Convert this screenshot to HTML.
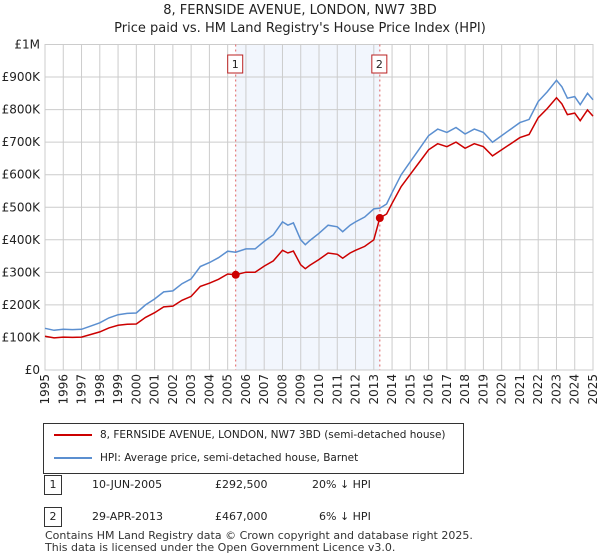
<!DOCTYPE html>
<html><head><meta charset="utf-8">
<style>
body{margin:0;background:#fff;font-family:"DejaVu Sans","Liberation Sans",sans-serif;}
#wrap{position:relative;width:600px;height:560px;overflow:hidden;}
.t{position:absolute;font-size:12px;color:#222;}
</style></head><body>
<div id="wrap">
<div class="t" style="left:0;width:600px;text-align:center;top:2px;font-size:13px;line-height:18px;">8, FERNSIDE AVENUE, LONDON, NW7 3BD<br>Price paid vs. HM Land Registry's House Price Index (HPI)</div>
<svg id="chart" width="600" height="420" style="position:absolute;left:0;top:0;font-family:'DejaVu Sans',sans-serif"></svg>
<div style="position:absolute;left:43px;top:423px;width:421px;height:51px;border:1px solid #333;box-sizing:border-box;">
 <div style="position:absolute;left:10px;top:5px;font-size:10.5px;color:#222;"><span style="display:inline-block;width:38px;height:2px;background:#cc0000;vertical-align:middle;margin-right:8px"></span>8, FERNSIDE AVENUE, LONDON, NW7 3BD (semi-detached house)</div>
 <div style="position:absolute;left:10px;top:28px;font-size:10.5px;color:#222;"><span style="display:inline-block;width:38px;height:2px;background:#5b8fd0;vertical-align:middle;margin-right:8px"></span>HPI: Average price, semi-detached house, Barnet</div>
</div>
<div>
 <div class="t" style="left:44px;top:475px;width:16px;height:18px;border:1px solid #333;text-align:center;line-height:18px;font-size:11px">1</div>
 <div class="t" style="left:92px;top:478px;font-size:11px">10-JUN-2005</div>
 <div class="t" style="left:215px;top:478px;font-size:11px">£292,500</div>
 <div class="t" style="left:312px;top:478px;font-size:11px">20% ↓ HPI</div>
</div>
<div>
 <div class="t" style="left:44px;top:507px;width:16px;height:18px;border:1px solid #333;text-align:center;line-height:18px;font-size:11px">2</div>
 <div class="t" style="left:92px;top:510px;font-size:11px">29-APR-2013</div>
 <div class="t" style="left:215px;top:510px;font-size:11px">£467,000</div>
 <div class="t" style="left:319px;top:510px;font-size:11px">6% ↓ HPI</div>
</div>
<div class="t" style="left:45px;top:530px;font-size:11px;line-height:12px;color:#333">Contains HM Land Registry data © Crown copyright and database right 2025.<br>This data is licensed under the Open Government Licence v3.0.</div>
</div>
<script>
const hpiYears=[1995,1995.5,1996,1996.5,1997,1997.5,1998,1998.5,1999,1999.5,2000,2000.5,2001,2001.5,2002,2002.5,2003,2003.5,2004,2004.5,2005,2005.44,2006,2006.5,2007,2007.5,2008,2008.3,2008.6,2009,2009.25,2009.5,2010,2010.5,2011,2011.3,2011.7,2012,2012.5,2013,2013.33,2013.7,2014,2014.5,2015,2015.5,2016,2016.5,2017,2017.5,2018,2018.5,2019,2019.5,2020,2020.5,2021,2021.5,2022,2022.5,2023,2023.3,2023.6,2024,2024.3,2024.7,2025];
const hpiValues=[128,122,125,124,125,135,145,160,170,174,175,200,218,240,243,265,280,318,330,345,365,362,372,372,395,415,455,445,452,400,385,398,420,445,440,425,445,455,470,495,497,510,545,600,640,680,720,740,730,745,725,740,730,700,720,740,760,770,825,855,890,870,835,840,815,850,830];
const saleYears=[2005.44,2013.33];
const salePrices=[292.5,467];
const saleLabels=["1","2"];
const yTicks=[0,100,200,300,400,500,600,700,800,900,1000];
const yTickLabels=["£0","£100K","£200K","£300K","£400K","£500K","£600K","£700K","£800K","£900K","£1M"];
const xTicks=[1995,1996,1997,1998,1999,2000,2001,2002,2003,2004,2005,2006,2007,2008,2009,2010,2011,2012,2013,2014,2015,2016,2017,2018,2019,2020,2021,2022,2023,2024,2025];

const L=45,R=593,T=44.5,B=370;
const X=y=>L+(y-1995)/30*(R-L);
const Y=v=>B-v/1000*(B-T);
const svg=document.getElementById('chart');
const NS='http://www.w3.org/2000/svg';
function mk(tag,attrs){const e=document.createElementNS(NS,tag);for(const k in attrs)e.setAttribute(k,attrs[k]);svg.appendChild(e);return e;}
function hpiAt(t){for(let i=0;i<hpiYears.length-1;i++){if(t>=hpiYears[i]&&t<=hpiYears[i+1]){const f=(t-hpiYears[i])/(hpiYears[i+1]-hpiYears[i]);return hpiValues[i]+f*(hpiValues[i+1]-hpiValues[i]);}}return hpiValues[hpiValues.length-1];}

let sh=mk('rect',{x:X(saleYears[0]),y:T,width:X(saleYears[1])-X(saleYears[0]),height:B-T,fill:'#f2f6fd'});


yTicks.forEach((v,i)=>{
 let g=mk('line',{x1:L,x2:R,y1:Y(v),y2:Y(v),stroke:'#cccccc'});
 
 
 let t=mk('text',{x:40,y:Y(v)+4,'text-anchor':'end','font-size':12,fill:'#222'});
 t.textContent=yTickLabels[i];
 
 
});
xTicks.forEach(yr=>{
 let g=mk('line',{x1:X(yr),x2:X(yr),y1:T,y2:B,stroke:'#cccccc'});
 
 
 let t=mk('text',{x:0,y:0,'text-anchor':'end','font-size':12,fill:'#222',transform:`translate(${X(yr)+4},${B+4}) rotate(-90)`});
 t.textContent=yr;
 
 
});
let bd=mk('rect',{x:L,y:T,width:R-L,height:B-T,fill:'none',stroke:'#cccccc'});


saleYears.forEach((sy,i)=>{
 let v=mk('line',{x1:X(sy),x2:X(sy),y1:T,y2:B,stroke:'#e06060','stroke-dasharray':'2,3'});
 
 
 let b=mk('rect',{x:X(sy)-8,y:55,width:15,height:18,fill:'#fff',stroke:'#bb2222'});
 
 
 let t=mk('text',{x:X(sy)-0.5,y:68,'text-anchor':'middle','font-size':11,fill:'#222'});
 t.textContent=saleLabels[i];
 
 
});
let d=hpiYears.map((yr,i)=>(i?'L':'M')+X(yr).toFixed(1)+','+Y(hpiValues[i]).toFixed(1)).join(' ');
let hp=mk('path',{d:d,fill:'none',stroke:'#5b8fd0','stroke-width':1.5});


function ratioAt(t){let r=salePrices[0]/hpiAt(saleYears[0]);for(let i=0;i<saleYears.length;i++){if(t>=saleYears[i])r=salePrices[i]/hpiAt(saleYears[i]);}return r;}
let pts=[];
hpiYears.forEach((yr,i)=>{
 saleYears.forEach(sy=>{if(i>0&&sy>hpiYears[i-1]&&sy<yr){pts.push([sy-0.001,hpiAt(sy)*ratioAt(sy-0.01)]);pts.push([sy,hpiAt(sy)*ratioAt(sy)]);}});
 pts.push([yr,hpiValues[i]*ratioAt(yr)]);
});
let d2=pts.map((p,i)=>(i?'L':'M')+X(p[0]).toFixed(1)+','+Y(p[1]).toFixed(1)).join(' ');
let pp=mk('path',{d:d2,fill:'none',stroke:'#cc0000','stroke-width':1.5});


saleYears.forEach((sy,i)=>{
 let c=mk('circle',{cx:X(sy),cy:Y(salePrices[i]),r:4,fill:'#cc0000'});
 
 
});
</script>
</body></html>
